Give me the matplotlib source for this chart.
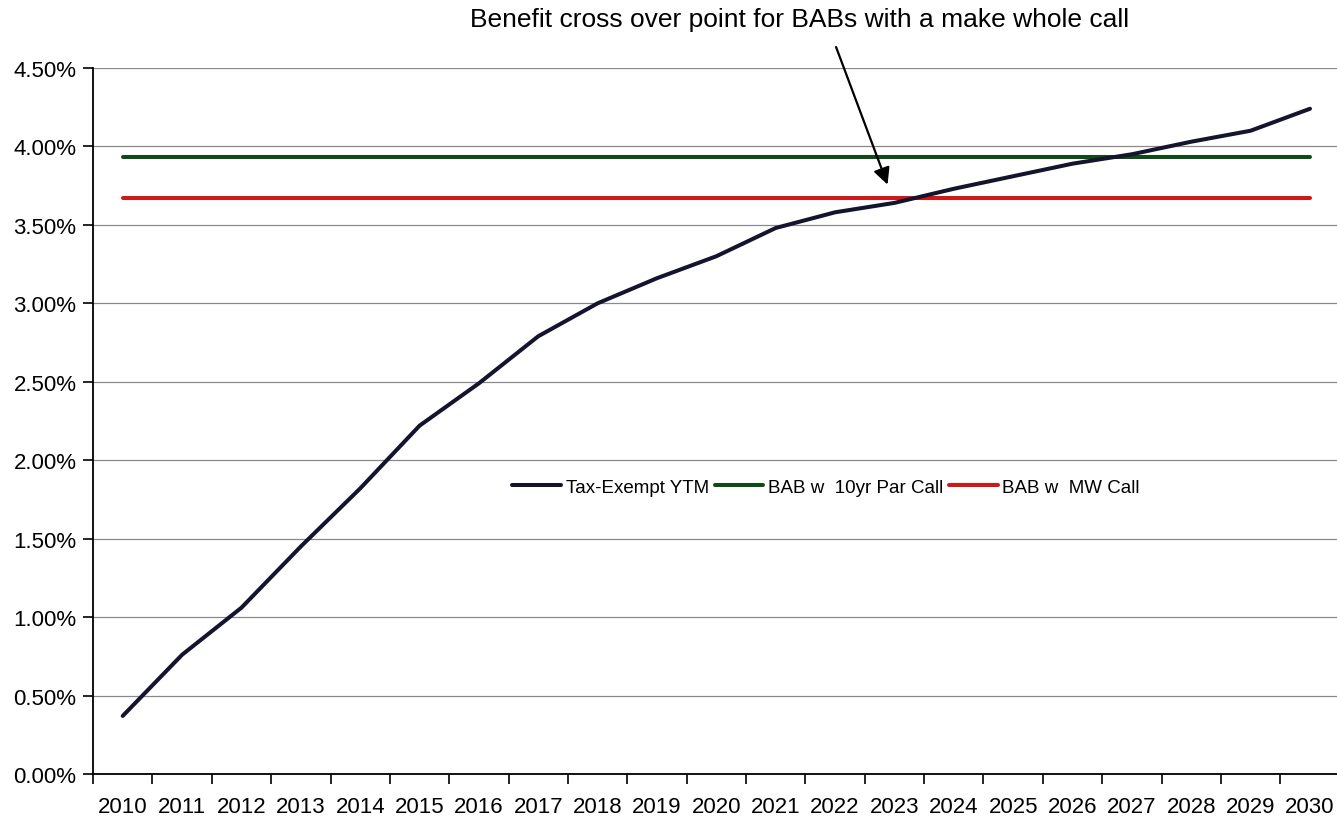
import numpy as np
import matplotlib.pyplot as plt
from matplotlib.ticker import FuncFormatter, MultipleLocator

plt.rcParams['font.family'] = ['Liberation Sans', 'DejaVu Sans']

# Data (yield in %)
years = list(range(2010, 2031))
tax_exempt_ytm = [0.37, 0.76, 1.06, 1.45, 1.82, 2.22, 2.49, 2.79, 3.00, 3.16, 3.30,
                  3.48, 3.58, 3.64, 3.73, 3.81, 3.89, 3.95, 4.03, 4.10, 4.24]
bab_par_call = [3.93] * len(years)
bab_mw_call = [3.67] * len(years)

x = np.arange(len(years))

fig = plt.figure(figsize=(13.37, 8.2), dpi=100)
ax = fig.add_axes([0.0696, 0.0549, 0.9324, 0.861])

ax.plot(x, tax_exempt_ytm, color='#14142e', lw=2.9, label='Tax-Exempt YTM', zorder=4,
        solid_capstyle='round')
ax.plot(x, bab_par_call, color='#0f4a17', lw=2.9, label='BAB w  10yr Par Call', zorder=3,
        solid_capstyle='round')
ax.plot(x, bab_mw_call, color='#d01818', lw=2.9, label='BAB w  MW Call', zorder=3,
        solid_capstyle='round')

ax.set_xlim(-0.5, len(years) - 0.5)
ax.set_ylim(0, 4.5)
ax.yaxis.set_major_locator(MultipleLocator(0.5))
ax.yaxis.set_major_formatter(FuncFormatter(lambda v, p: f'{v:.2f}%'))
ax.grid(axis='y', color='#8a8a8a', lw=0.9)
ax.set_axisbelow(True)

# tick marks between categories, labels at the centres
ax.set_xticks(np.arange(-0.5, len(years), 1.0))
ax.set_xticklabels([])
ax.set_xticks(x, minor=True)
ax.set_xticklabels([str(y) for y in years], minor=True, fontsize=16)
ax.tick_params(axis='x', which='minor', length=0, pad=16)
ax.tick_params(axis='x', which='major', length=7, width=1.2, direction='out')
ax.tick_params(axis='y', length=7, width=1.2, labelsize=16, pad=5)

for s in ['top', 'right']:
    ax.spines[s].set_visible(False)
ax.spines['left'].set_linewidth(1.3)
ax.spines['bottom'].set_linewidth(1.3)

ax.legend(loc='center', bbox_to_anchor=(0.588, 0.4065), ncol=3, frameon=False,
          fontsize=13.5, handlelength=2.6, handletextpad=0.25, columnspacing=0.3)

# annotation above the plot
ax.text(11.4, 4.81, 'Benefit cross over point for BABs with a make whole call',
        ha='center', va='center', fontsize=19, clip_on=False)
ax.annotate('', xy=(12.9, 3.74), xytext=(12.0, 4.65),
            arrowprops=dict(arrowstyle='-|>', color='black', lw=1.6, mutation_scale=25),
            annotation_clip=False)

fig.savefig('out.png', dpi=100)
